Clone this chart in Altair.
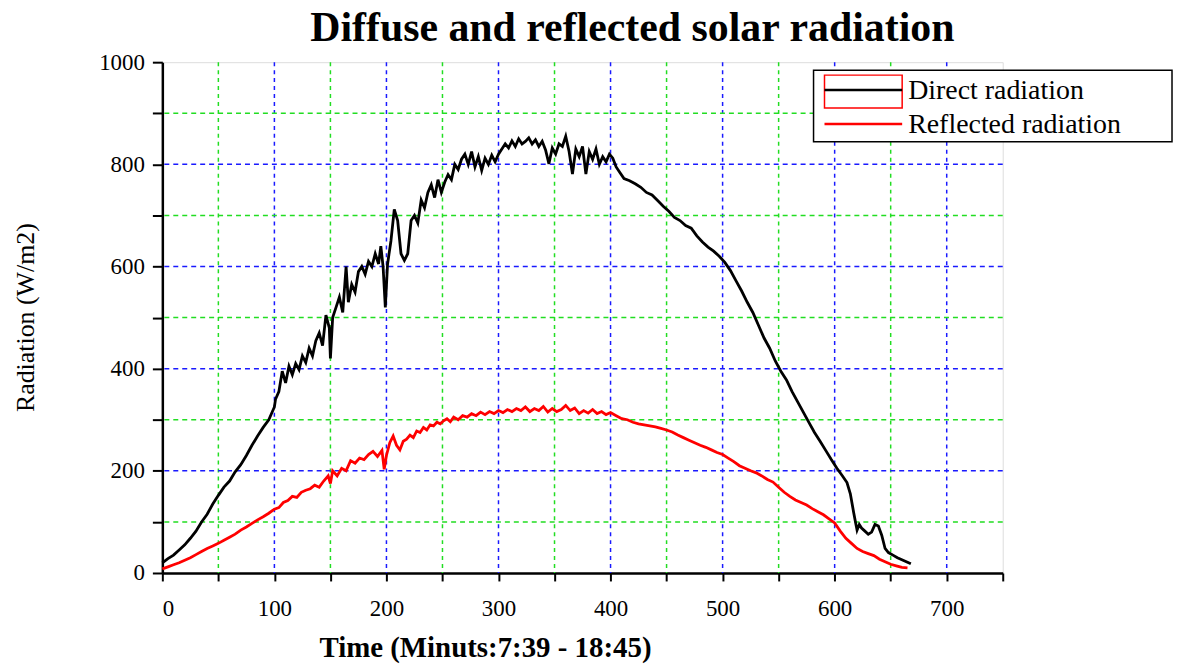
import altair as alt
import pandas as pd

# ---- data ----
black_t = [0, 5, 10, 15, 20, 25, 30, 35, 40, 45, 50, 55, 60, 65, 70, 75, 80, 85, 90, 95, 100,
           101, 104, 107, 110, 113, 116, 119, 122, 125, 128, 131, 134, 137, 140, 143, 146, 149, 150,
           152, 155, 158, 161, 164, 166, 169, 172, 175, 178, 181, 184, 187, 190, 193, 195, 197, 199,
           201, 204, 207, 210, 213, 216, 219, 222, 225, 228, 231, 234, 237, 240, 243, 246, 249, 252,
           255, 258, 261, 264, 267, 270, 273, 276, 279, 282, 285, 288, 291, 294, 297, 300, 303, 306,
           309, 312, 315, 318, 321, 324, 327, 330, 333, 336, 339, 342, 345, 348, 351, 354, 357, 360,
           363, 366, 369, 372, 375, 378, 381, 384, 387, 390, 393, 396, 399, 402, 405, 408,
           412, 417, 422, 427, 432, 437, 442, 447, 452, 457, 462, 467, 472, 477, 482, 487, 492, 497,
           502, 507, 512, 517, 522, 527, 532, 537, 542, 547, 552, 557, 562, 567, 572, 577, 582, 587,
           592, 597, 602, 607, 611, 614, 617, 619, 620, 622, 624, 627, 630, 633, 636, 639, 642, 645,
           648, 652, 656, 660, 665, 668]
black_v = [20, 28, 35, 45, 55, 68, 82, 100, 115, 135, 152, 168, 180, 198, 212, 230, 250, 268, 285, 300, 325,
           340, 355, 395, 372, 405, 388, 410, 398, 425, 412, 440, 425, 455, 470, 445, 505, 480, 420,
           500, 520, 540, 510, 600, 530, 565, 550, 590, 600, 585, 610, 600, 625, 605, 640, 600, 520,
           605, 650, 712, 690, 625, 612, 625, 690, 700, 685, 730, 715, 745, 760, 735, 770, 745, 765,
           780, 770, 800, 790, 810, 820, 800, 825, 795, 815, 788, 812, 800, 818, 805, 820, 830, 840,
           832, 846, 835, 850, 840, 845, 852, 840, 848, 835, 845, 828, 801, 832, 820, 840, 835, 855,
           825, 781, 830, 815, 835, 781, 825, 810, 830, 800, 815, 805, 820, 812, 795, 785,
           772, 768, 762, 755, 745, 740, 729, 718, 708, 696, 690, 680, 675, 660, 648, 638, 630, 620,
           608, 592, 572, 552, 530, 510, 485, 460, 440, 415, 395, 378, 355, 335, 315, 295, 275, 258,
           240, 222, 205, 190, 177, 155, 118, 95, 84, 95, 88, 82, 76, 80, 95, 92, 74, 48,
           40, 35, 30, 26, 21, 18]

red_t = [0, 5, 10, 15, 20, 25, 30, 35, 40, 45, 50, 55, 60, 65, 70, 75, 80, 85, 90, 95, 100,
         104, 108, 112, 116, 120, 124, 128, 132, 136, 140, 144, 148, 150, 152, 156, 160, 164, 168,
         172, 176, 180, 184, 188, 192, 196, 198, 200, 203, 206, 209, 212, 215, 218, 221, 224, 227,
         230, 233, 236, 239, 242, 245, 248, 251, 254, 257, 260, 264, 268, 272, 276, 280, 284, 288,
         292, 296, 300, 304, 308, 312, 316, 320, 324, 328, 332, 336, 340, 344, 348, 352, 356, 360,
         364, 368, 372, 376, 380, 384, 388, 392, 396, 400, 405, 410, 415, 420, 425, 430, 435, 440,
         445, 450, 455, 460, 465, 470, 475, 480, 485, 490, 495, 500, 505, 510, 515, 520, 525, 530,
         535, 540, 545, 550, 555, 560, 565, 570, 575, 580, 585, 590, 595, 600, 605, 610, 615, 620,
         625, 630, 635, 640, 645, 650, 655, 660, 665]
red_v = [8, 12, 16, 20, 25, 30, 36, 42, 48, 53, 58, 64, 70, 76, 84, 90, 97, 104, 110, 117, 125,
         128, 138, 142, 150, 148, 158, 162, 165, 172, 168, 180, 190, 175, 200, 190, 205, 200, 220,
         215, 225, 222, 232, 238, 228, 240, 203, 230, 255, 268, 250, 241, 258, 262, 270, 265, 278,
         275, 285, 280, 290, 288, 295, 292, 298, 302, 296, 305, 300, 308, 305, 312, 308, 315, 310,
         316, 312, 318, 314, 320, 316, 322, 318, 325, 316, 322, 318, 326, 315, 322, 316, 320, 328,
         318, 323, 312, 318, 313, 320, 312, 316, 310, 314, 308, 302, 300, 295, 292, 290, 288, 286,
         283, 280, 276, 270, 265, 260, 255, 250, 246, 241, 236, 232, 225, 218, 210, 205, 200, 196,
         190, 183, 178, 168, 158, 150, 143, 138, 133, 126, 120, 114, 106, 98, 82, 68, 58, 48,
         42, 38, 34, 27, 22, 17, 14, 11, 10]

series_names = ["Direct radiation", "Reflected radiation"]
series_colors = ["black", "red"]

x_major = [100, 200, 300, 400, 500, 600, 700]
x_minor = [50, 150, 250, 350, 450, 550, 650]
y_major = [200, 400, 600, 800]
y_minor = [100, 300, 500, 700, 900]
x_ticks = list(range(0, 751, 50))
y_ticks = list(range(0, 1001, 100))

TITLE = "Diffuse and reflected solar radiation"
X_TITLE = "Time (Minuts:7:39 - 18:45)"
Y_TITLE = "Radiation (W/m2)"

SERIF = "Liberation Serif"
W, H = 844, 513

df = pd.concat([
    pd.DataFrame({"t": black_t, "v": black_v, "s": series_names[0]}),
    pd.DataFrame({"t": red_t, "v": red_v, "s": series_names[1]}),
])

xscale = alt.Scale(domain=[0, 750], nice=False, zero=False)
yscale = alt.Scale(domain=[0, 1000], nice=False)

x_axis = alt.Axis(values=x_ticks, format="d",
                  labelExpr="datum.value % 100 == 0 && datum.value < 750 ? datum.label : ''",
                  grid=False, tickSize=8, tickWidth=2, tickColor="black",
                  domainColor="black", domainWidth=2.5, labelFont=SERIF, labelFontSize=23,
                  labelColor="black", labelPadding=17, title=X_TITLE, titleFont=SERIF,
                  titleFontSize=29, titleFontWeight="bold", titleColor="black",
                  titleX=324, titleY=75, titleBaseline="middle", titleAlign="center")
y_axis = alt.Axis(values=y_ticks, format="d",
                  labelExpr="datum.value % 200 == 0 ? datum.label : ''",
                  grid=False, tickSize=10, tickWidth=2, tickColor="black",
                  domainColor="black", domainWidth=2.5, labelFont=SERIF, labelFontSize=23,
                  labelColor="black", labelPadding=8, title=Y_TITLE, titleFont=SERIF,
                  titleFontSize=26, titleFontWeight="normal", titleColor="black",
                  titleX=-137, titleY=256, titleAngle=-90, titleBaseline="middle", titleAlign="center")

def vgrid(vals, color):
    return alt.Chart(pd.DataFrame({"x": vals})).mark_rule(
        color=color, strokeDash=[4, 4], strokeWidth=1.5).encode(
        x=alt.X("x:Q", scale=xscale, axis=x_axis))

def hgrid(vals, color):
    return alt.Chart(pd.DataFrame({"y": vals})).mark_rule(
        color=color, strokeDash=[5, 4], strokeWidth=1.5).encode(
        y=alt.Y("y:Q", scale=yscale, axis=y_axis))

grids = [vgrid(x_minor, "#22dd22"), vgrid(x_major, "#1a1aff"),
         hgrid(y_minor, "#22dd22"), hgrid(y_major, "#1a1aff")]

lines = alt.Chart(df).mark_line(strokeWidth=2.8, interpolate="linear").encode(
    x=alt.X("t:Q", scale=xscale, axis=x_axis),
    y=alt.Y("v:Q", scale=yscale, axis=y_axis),
    color=alt.Color("s:N", scale=alt.Scale(domain=series_names, range=series_colors), legend=None),
    order="t:Q",
)

one = alt.Data(values=[{}])
leg_box = alt.Chart(one).mark_rect(fill="white", stroke="black", strokeWidth=1.5).encode(
    x=alt.value(654), x2=alt.value(1014), y=alt.value(8), y2=alt.value(80))
leg_rect = alt.Chart(one).mark_rect(fill="white", fillOpacity=0, stroke="red", strokeWidth=1.5).encode(
    x=alt.value(665), x2=alt.value(743), y=alt.value(13), y2=alt.value(46))
leg_l1 = alt.Chart(one).mark_rule(color="black", strokeWidth=2.5).encode(
    x=alt.value(665), x2=alt.value(743), y=alt.value(28))
leg_l2 = alt.Chart(one).mark_rule(color="red", strokeWidth=2.5).encode(
    x=alt.value(665), x2=alt.value(743), y=alt.value(62))
leg_t1 = alt.Chart(one).mark_text(align="left", baseline="middle", font=SERIF, fontSize=28,
                                  color="black", text=series_names[0]).encode(
    x=alt.value(749), y=alt.value(29))
leg_t2 = alt.Chart(one).mark_text(align="left", baseline="middle", font=SERIF, fontSize=28,
                                  color="black", text=series_names[1]).encode(
    x=alt.value(749), y=alt.value(63))

chart = alt.layer(*grids, lines, leg_box, leg_rect, leg_l1, leg_l2, leg_t1, leg_t2).properties(
    width=W, height=H,
    title=alt.TitleParams(TITLE, font=SERIF, fontSize=42, fontWeight="bold", color="black",
                          anchor="middle", dx=50, offset=1),
    autosize=alt.AutoSizeParams(type="none"),
    padding={"left": 155, "top": 53, "right": 172, "bottom": 92},
).configure_view(strokeOpacity=0).configure(background="white")

chart.save("out.html", embed_options={"renderer": "svg", "actions": False})
